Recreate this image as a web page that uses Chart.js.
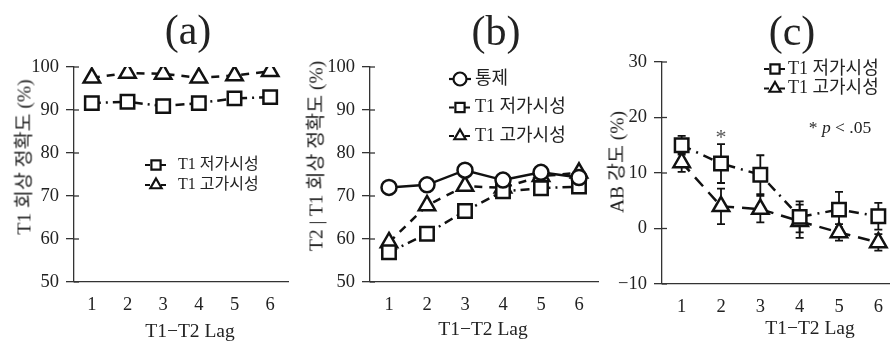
<!DOCTYPE html>
<html>
<head>
<meta charset="utf-8">
<script src="https://cdn.jsdelivr.net/npm/chart.js@4.4.1/dist/chart.umd.min.js"></script>
<style>
    body { margin: 0; background: #fff; }
    #wrap {
        position: relative; width: 890px; height: 347px; overflow: hidden; background: #fff;
        font-family: 'Liberation Serif', 'Noto Sans CJK KR', serif; color: #222;
    }
    canvas { position: absolute; top: 0; }
    .lbl { position: absolute; white-space: nowrap; transform: translate(-50%, -50%); }
    .panel { font-size: 42px; }
    .xt { font-size: 19.5px; }
    .yt { font-size: 19.5px; transform: translate(-50%, -50%) rotate(-90deg); }
    .sig { font-size: 17.5px; }
</style>
</head>
<body>
<div id="wrap">
    <canvas id="chartA" width="300" height="347" style="left:0"></canvas>
    <canvas id="chartB" width="310" height="347" style="left:300px"></canvas>
    <canvas id="chartC" width="300" height="347" style="left:610px"></canvas>

    <div class="lbl panel" style="left:188px;top:30px">(a)</div>
    <div class="lbl panel" style="left:496px;top:31px">(b)</div>
    <div class="lbl panel" style="left:792px;top:31px">(c)</div>

    <div class="lbl xt" style="left:190px;top:331px">T1−T2 Lag</div>
    <div class="lbl xt" style="left:483px;top:329px">T1−T2 Lag</div>
    <div class="lbl xt" style="left:810px;top:328px">T1−T2 Lag</div>

    <div class="lbl yt" style="left:22px;top:157px">T1 회상 정확도 (%)</div>
    <div class="lbl yt" style="left:314px;top:156px">T2 | T1 회상 정확도 (%)</div>
    <div class="lbl yt" style="left:615px;top:162px">AB 강도 (%)</div>

    <div class="lbl sig" style="left:840px;top:127px">* <i>p</i> &lt; .05</div>
</div>
<script>
// lags on the x axis
const lags = ['1', '2', '3', '4', '5', '6'];

// series names
const nameControl = '통제';
const nameLow = 'T1 저가시성';
const nameHigh = 'T1 고가시성';

// (a) T1 recall accuracy
const t1LowA = [91.6, 91.9, 90.9, 91.6, 92.7, 93.0];
const t1HighA = [97.5, 98.6, 98.4, 97.5, 98.0, 99.0];

// (b) T2 | T1 recall accuracy
const controlB = [72.0, 72.6, 76.0, 73.7, 75.5, 74.3];
const t1LowB = [56.9, 61.2, 66.5, 71.1, 71.8, 72.2];
const t1HighB = [59.2, 67.8, 72.3, 71.9, 74.6, 75.4];

// (c) AB magnitude with error bars
const t1LowC = [15.0, 11.7, 9.7, 2.1, 3.4, 2.2];
const t1HighC = [11.9, 4.0, 3.5, 1.3, -0.7, -2.5];
const t1LowErrC = [1.7, 3.5, 3.5, 2.8, 3.2, 2.4];
const t1HighErrC = [1.7, 3.2, 2.4, 3.0, 1.5, 1.5];
const sigLagsC = ['2'];

// y tick values
const yTicksAB = [50, 60, 70, 80, 90, 100];
const yTicksC = [-10, 0, 10, 20, 30];

const INK = '#111';
const TEXT = '#222';
const dashLow = [9, 5, 2, 5];
const dashHigh = [8, 7];

function drawMarker(ctx, style, x, y, r) {
    ctx.beginPath();
    if (style === 'rect') {
        const s = r * Math.SQRT1_2;
        ctx.rect(x - s, y - s, 2 * s, 2 * s);
    } else if (style === 'triangle') {
        ctx.moveTo(x, y - r);
        ctx.lineTo(x + r * 0.866, y + r / 2);
        ctx.lineTo(x - r * 0.866, y + r / 2);
        ctx.closePath();
    } else {
        ctx.arc(x, y, r, 0, Math.PI * 2);
    }
    ctx.fillStyle = '#fff';
    ctx.fill();
    ctx.stroke();
}

// legend drawn inside the plot
const insideLegend = {
    id: 'insideLegend',
    afterDraw(chart, args, opts) {
        const ctx = chart.ctx;
        chart.data.datasets.forEach((ds, i) => {
            const y = opts.y + i * opts.rowGap;
            ctx.save();
            ctx.strokeStyle = INK;
            ctx.lineWidth = 2.2;
            ctx.setLineDash(ds.borderDash.length ? [5, 3] : []);
            ctx.beginPath();
            ctx.moveTo(opts.x, y);
            ctx.lineTo(opts.x + opts.sample, y);
            ctx.stroke();
            ctx.setLineDash([]);
            drawMarker(ctx, ds.pointStyle, opts.x + opts.sample / 2, y, opts.markerR);
            ctx.fillStyle = TEXT;
            ctx.font = opts.font;
            ctx.textBaseline = 'middle';
            ctx.fillText(ds.label, opts.textX, y);
            ctx.restore();
        });
    }
};

// y ticks crossing the axis
const innerTicks = {
    id: 'innerTicks',
    afterDraw(chart) {
        const { ctx, chartArea, scales: { y } } = chart;
        ctx.save();
        ctx.strokeStyle = '#333';
        ctx.lineWidth = 1.3;
        y.ticks.forEach((t, i) => {
            const py = y.getPixelForTick(i);
            ctx.beginPath();
            ctx.moveTo(chartArea.left, py);
            ctx.lineTo(chartArea.left + 5, py);
            ctx.stroke();
        });
        ctx.restore();
    }
};

const errorBars = {
    id: 'errorBars',
    beforeDatasetsDraw(chart) {
        const { ctx, scales: { y } } = chart;
        chart.data.datasets.forEach((ds, di) => {
            if (!ds.errors) return;
            const meta = chart.getDatasetMeta(di);
            ctx.save();
            ctx.strokeStyle = INK;
            ctx.lineWidth = 1.8;
            meta.data.forEach((pt, i) => {
                const top = y.getPixelForValue(ds.data[i] + ds.errors[i]);
                const bot = y.getPixelForValue(ds.data[i] - ds.errors[i]);
                ctx.beginPath();
                ctx.moveTo(pt.x, top);
                ctx.lineTo(pt.x, bot);
                ctx.moveTo(pt.x - 4, top);
                ctx.lineTo(pt.x + 4, top);
                ctx.moveTo(pt.x - 4, bot);
                ctx.lineTo(pt.x + 4, bot);
                ctx.stroke();
            });
            ctx.restore();
        });
    },
    afterDatasetsDraw(chart) {
        const { ctx, scales: { x, y } } = chart;
        ctx.save();
        ctx.fillStyle = '#555';
        ctx.font = '22px "Liberation Serif"';
        ctx.textAlign = 'center';
        ctx.textBaseline = 'middle';
        sigLagsC.forEach((lag) => {
            const idx = lags.indexOf(lag);
            const px = x.getPixelForValue(idx);
            const py = y.getPixelForValue(t1LowC[idx] + t1LowErrC[idx]);
            ctx.fillText('*', px, py - 6);
        });
        ctx.restore();
    }
};

function series(label, data, pointStyle, radius, dash) {
    return {
        label: label,
        data: data,
        borderColor: INK,
        backgroundColor: '#fff',
        borderWidth: 2.5,
        borderDash: dash,
        pointStyle: pointStyle,
        pointRadius: radius,
        pointHoverRadius: radius,
        pointBorderWidth: 2.5,
        pointBackgroundColor: '#fff',
        pointBorderColor: INK,
        tension: 0,
        fill: false,
    };
}

function makeChart(canvasId, datasets, yTicks, box, legendOpts, extraPlugins) {
    const ctx = document.getElementById(canvasId);
    return new Chart(ctx, {
        type: 'line',
        data: { labels: lags, datasets: datasets },
        plugins: [insideLegend, innerTicks].concat(extraPlugins),
        options: {
            responsive: false,
            animation: false,
            devicePixelRatio: 1,
            layout: { padding: { left: 0, right: box.right, top: box.top, bottom: 0 } },
            plugins: {
                legend: { display: false },
                tooltip: { enabled: false },
                insideLegend: legendOpts,
            },
            scales: {
                x: {
                    type: 'category',
                    offset: true,
                    grid: { display: false },
                    border: { display: true, color: '#333', width: 1.3 },
                    ticks: {
                        color: TEXT,
                        padding: 4,
                        font: { family: 'Liberation Serif', size: 18.5 },
                    },
                    afterFit: (scale) => { scale.height = 347 - box.bottom; },
                },
                y: {
                    min: yTicks[0],
                    max: yTicks[yTicks.length - 1],
                    grid: { drawOnChartArea: false, tickLength: 8, color: '#333', lineWidth: 1.3 },
                    border: { display: true, color: '#333', width: 1.3 },
                    ticks: {
                        stepSize: yTicks[1] - yTicks[0],
                        color: TEXT,
                        padding: 7,
                        font: { family: 'Liberation Serif', size: 18.5 },
                        callback: (v) => String(v).replace('-', '−'),
                    },
                    afterFit: (scale) => { scale.width = box.left; },
                },
            },
        },
    });
}

makeChart(
    'chartA',
    [
        series(nameLow, t1LowA, 'rect', 9.5, dashLow),
        series(nameHigh, t1HighA, 'triangle', 9.5, dashHigh),
    ],
    yTicksAB,
    { left: 74, right: 3, top: 67, bottom: 282 },
    { x: 145, sample: 22, markerR: 6.5, textX: 178, y: 165, rowGap: 20, font: '16px "Liberation Serif", "Noto Sans CJK KR"' },
    []
);

makeChart(
    'chartB',
    [
        series(nameControl, controlB, 'circle', 7.5, []),
        series(nameLow, t1LowB, 'rect', 9.5, dashLow),
        series(nameHigh, t1HighB, 'triangle', 9.5, dashHigh),
    ],
    yTicksAB,
    { left: 70, right: 6, top: 67, bottom: 282 },
    { x: 149, sample: 22, markerR: 6.5, textX: 175, y: 79, rowGap: 28.5, font: '18px "Liberation Serif", "Noto Sans CJK KR"' },
    []
);

const lowC = series(nameLow, t1LowC, 'rect', 9.5, [10, 6, 2, 6]);
lowC.errors = t1LowErrC;
const highC = series(nameHigh, t1HighC, 'triangle', 9.5, [12, 8]);
highC.errors = t1HighErrC;

makeChart(
    'chartC',
    [lowC, highC],
    yTicksC,
    { left: 52, right: 10, top: 62, bottom: 284 },
    { x: 154, sample: 22, markerR: 6.5, textX: 178, y: 69, rowGap: 19.5, font: '18px "Liberation Serif", "Noto Sans CJK KR"' },
    [errorBars]
);
</script>
</body>
</html>
